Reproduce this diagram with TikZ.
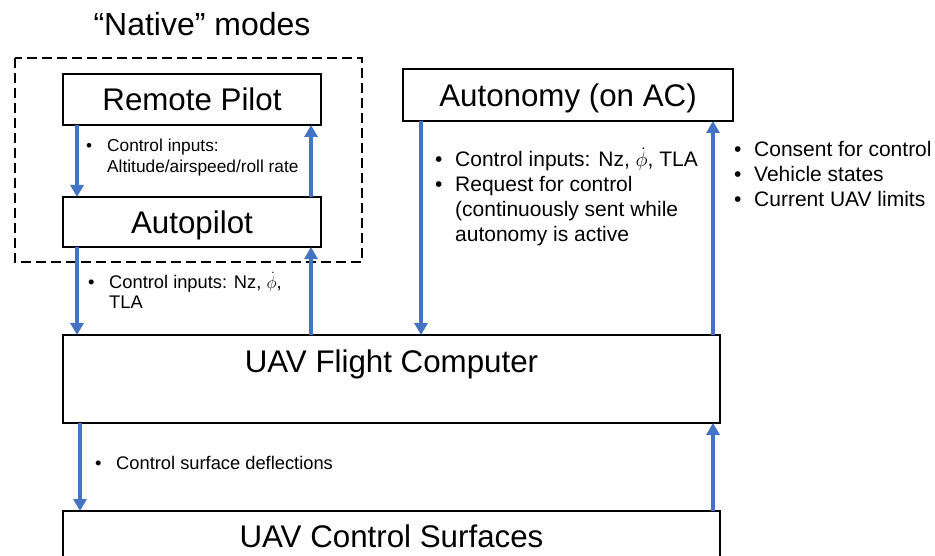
\documentclass[tikz,border=0pt]{standalone}
\usepackage{fontspec}
\setmainfont{Liberation Sans}
\usetikzlibrary{arrows.meta}
\definecolor{flowblue}{HTML}{4472C4}
\tikzset{
    block/.style={draw=black, line width=1.6pt, rectangle, inner sep=0pt, outer sep=0pt,
        font=\fontsize{31.3}{37}\selectfont, text height=22.4pt, text depth=0pt},
    flow/.style={draw=flowblue, line width=4pt, -{Triangle[width=13pt, length=12pt]}},
    notesmall/.style={inner sep=0pt, anchor=base west, font=\fontsize{17.3}{20.5}\selectfont},
    notemid/.style={inner sep=0pt, anchor=base west, font=\fontsize{21}{25}\selectfont},
    dashbox/.style={draw=black, line width=1.4pt, dash pattern=on 10pt off 5pt}
}
\newcommand{\notelist}[2]{\begin{tabular}[t]{@{}p{#1}@{}l@{}}#2\end{tabular}}

\begin{document}
\begin{tikzpicture}[x=1pt, y=-1pt]
    \useasboundingbox (0,0) rectangle (935,556);

    \node[anchor=base, inner sep=0pt, font=\fontsize{32}{38}\selectfont] (TITLE) at (202, 35.7) {``Native'' modes};
    \draw[dashbox] (15,58) rectangle (362,262);

    \node[block, minimum width=258pt, minimum height=51pt] (RP) at (192, 99.5) {Remote Pilot};
    \node[block, minimum width=258pt, minimum height=50pt] (AP) at (192, 222) {Autopilot};
    \node[block, minimum width=330pt, minimum height=52pt] (AUT) at (568, 95) {Autonomy (on AC)};
    \node[block, anchor=north west, minimum width=657pt, text height=37pt, text depth=51pt] (FC) at (63, 335) {UAV Flight Computer};
    \node[block, anchor=north west, minimum width=657pt, text height=36pt, text depth=50pt] (CS) at (63, 511) {UAV Control Surfaces};

    \draw[flow] ([xshift=14pt]RP.south west) -- ([xshift=14pt]AP.north west);
    \draw[flow] ([xshift=-10pt]AP.north east) -- ([xshift=-10pt]RP.south east);

    \draw[flow] ([xshift=14pt]AP.south west) -- ([xshift=14pt]FC.north west);
    \draw[flow] ([xshift=-10pt]AP.south east |- FC.north) -- ([xshift=-10pt]AP.south east);

    \draw[flow] ([xshift=18pt]AUT.south west) -- ([xshift=18pt]AUT.south west |- FC.north);
    \draw[flow] ([xshift=-20pt]AUT.south east |- FC.north) -- ([xshift=-20pt]AUT.south east);

    \draw[flow] ([xshift=17pt]FC.south west) -- ([xshift=17pt]CS.north west);
    \draw[flow] ([xshift=-7pt]CS.north east) -- ([xshift=-7pt]FC.south east);

    \node[notesmall] (RPNOTE) at (86, 151.7) {\notelist{21pt}{\textbullet & Control inputs:\\ & Altitude/airspeed/roll rate}};
    \node[notesmall, font=\fontsize{18.3}{20.5}\selectfont] (APNOTE) at (88, 288.5) {\notelist{21pt}{\textbullet & Control inputs: Nz, $\dot{\phi}$,\\ & TLA}};
    \node[notemid] (AUTNOTE) at (435, 167) {\notelist{20pt}{\textbullet & Control inputs: Nz, $\dot{\phi}$, TLA\\
        \textbullet & Request for control\\ & (continuously sent while\\ & autonomy is active}};
    \node[notemid] (FBNOTE) at (734, 156.5) {\notelist{20pt}{\textbullet & Consent for control\\
        \textbullet & Vehicle states\\ \textbullet & Current UAV limits}};
    \node[notesmall, font=\fontsize{18.3}{20.5}\selectfont] (CSNOTE) at (95, 469) {\notelist{21pt}{\textbullet & Control surface deflections}};
\end{tikzpicture}
\end{document}
